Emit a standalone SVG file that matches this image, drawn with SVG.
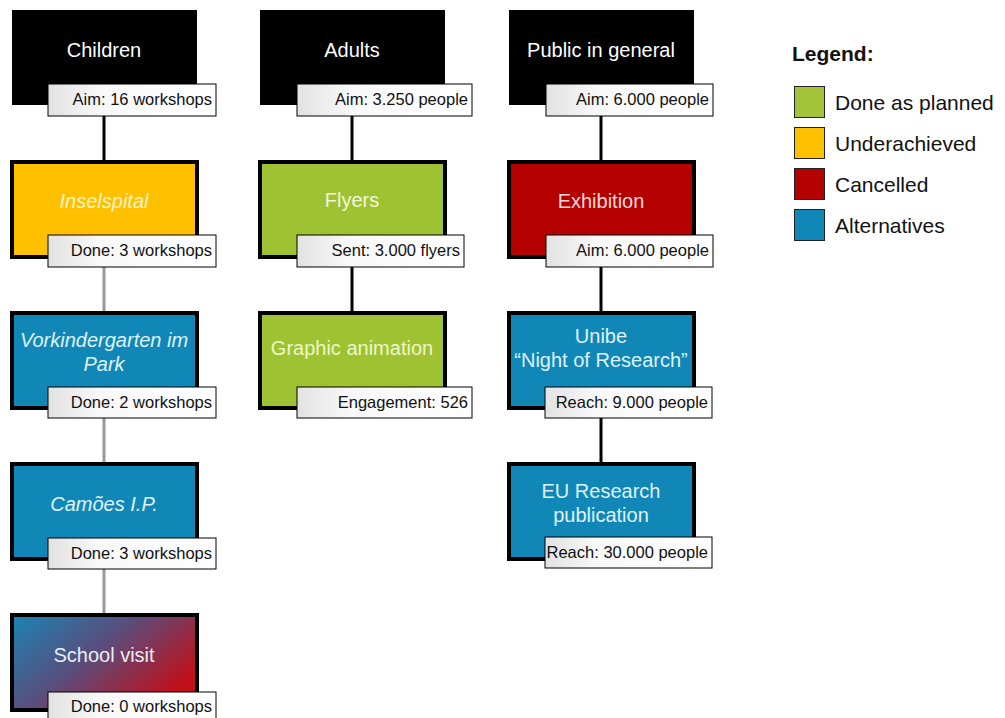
<svg xmlns="http://www.w3.org/2000/svg" width="1005" height="718" viewBox="0 0 1005 718">
<defs>
<linearGradient id="lbl" x1="0" y1="0" x2="1" y2="0">
<stop offset="0" stop-color="#e2e2e2"/>
<stop offset="0.3" stop-color="#f8f8f8"/>
<stop offset="1" stop-color="#ffffff"/>
</linearGradient>
<linearGradient id="mix" x1="0" y1="0" x2="1" y2="0.6">
<stop offset="0" stop-color="#1a84b4"/>
<stop offset="0.5" stop-color="#5a4d7c"/>
<stop offset="1" stop-color="#c0101a"/>
</linearGradient>
<style>
.head{fill:#000}
.box{stroke:#000;stroke-width:4}
.yel{fill:#ffc000}
.grn{fill:#9fc232}
.red{fill:#b50000}
.blu{fill:#1187b7}
.lab{fill:url(#lbl);stroke:#000;stroke-width:1}
.t{font-family:"Liberation Sans",Arial,sans-serif;font-size:20px;text-anchor:middle}
.it{font-style:italic}
.lt{font-family:"Liberation Sans",Arial,sans-serif;font-size:16.5px;text-anchor:end;fill:#111}
.lg{font-family:"Liberation Sans",Arial,sans-serif;font-size:21px;fill:#111}
.cb{stroke:#000;stroke-width:3;fill:none}
.cg{stroke:#999;stroke-width:3;fill:none}
.sw{stroke:#222;stroke-width:1}
</style>
</defs>
<rect width="1005" height="718" fill="#fff"/>
<g id="connectors">
<line class="cb" x1="104" y1="105" x2="104" y2="162"/>
<line class="cg" x1="104" y1="257" x2="104" y2="312"/>
<line class="cg" x1="104" y1="408" x2="104" y2="463"/>
<line class="cg" x1="104" y1="561" x2="104" y2="613"/>
<line class="cb" x1="352" y1="105" x2="352" y2="162"/>
<line class="cb" x1="352" y1="257" x2="352" y2="312"/>
<line class="cb" x1="601" y1="105" x2="601" y2="162"/>
<line class="cb" x1="601" y1="257" x2="601" y2="312"/>
<line class="cb" x1="601" y1="408" x2="601" y2="463"/>
</g>
<g id="children">
<rect class="head" x="12" y="10" width="185" height="95"/>
<text class="t" x="104" y="57" fill="#fff">Children</text>
<rect class="lab" x="48" y="84" width="168" height="32"/>
<text class="lt" x="212" y="105">Aim: 16 workshops</text>
</g>
<g id="inselspital">
<rect class="box yel" x="12" y="162" width="185" height="95"/>
<text class="t it" x="104" y="208" fill="#fff3c8">Inselspital</text>
<rect class="lab" x="48" y="235" width="168" height="32"/>
<text class="lt" x="212" y="256">Done: 3 workshops</text>
</g>
<g id="vorkindergarten">
<rect class="box blu" x="12" y="313" width="185" height="95"/>
<text class="t it" x="104" y="347" fill="#dff3fb">Vorkindergarten im</text>
<text class="t it" x="104" y="371" fill="#dff3fb">Park</text>
<rect class="lab" x="48" y="387" width="168" height="31"/>
<text class="lt" x="212" y="408">Done: 2 workshops</text>
</g>
<g id="camoes">
<rect class="box blu" x="12" y="464" width="185" height="95"/>
<text class="t it" x="104" y="511" fill="#dff3fb">Camões I.P.</text>
<rect class="lab" x="48" y="538" width="168" height="31"/>
<text class="lt" x="212" y="559">Done: 3 workshops</text>
</g>
<g id="school-visit">
<rect class="box" x="12" y="615" width="185" height="95" fill="url(#mix)"/>
<text class="t" x="104" y="662" fill="#e8eef5">School visit</text>
<rect class="lab" x="48" y="692" width="168" height="31"/>
<text class="lt" x="212" y="712">Done: 0 workshops</text>
</g>
<g id="adults">
<rect class="head" x="260" y="10" width="185" height="95"/>
<text class="t" x="352" y="57" fill="#fff">Adults</text>
<rect class="lab" x="297" y="84" width="175" height="32"/>
<text class="lt" x="468" y="105">Aim: 3.250 people</text>
</g>
<g id="flyers">
<rect class="box grn" x="260" y="162" width="185" height="95"/>
<text class="t" x="352" y="207" fill="#f1f8d8">Flyers</text>
<rect class="lab" x="297" y="235" width="167" height="32"/>
<text class="lt" x="460" y="256">Sent: 3.000 flyers</text>
</g>
<g id="graphic-animation">
<rect class="box grn" x="260" y="313" width="185" height="95"/>
<text class="t" x="352" y="355" fill="#eef7c8">Graphic animation</text>
<rect class="lab" x="297" y="387" width="175" height="31"/>
<text class="lt" x="468" y="408">Engagement: 526</text>
</g>
<g id="public">
<rect class="head" x="509" y="10" width="185" height="95"/>
<text class="t" x="601" y="57" fill="#fff">Public in general</text>
<rect class="lab" x="546" y="84" width="167" height="32"/>
<text class="lt" x="709" y="105">Aim: 6.000 people</text>
</g>
<g id="exhibition">
<rect class="box red" x="509" y="162" width="185" height="95"/>
<text class="t" x="601" y="208" fill="#ffd8d8">Exhibition</text>
<rect class="lab" x="546" y="235" width="167" height="32"/>
<text class="lt" x="709" y="256">Aim: 6.000 people</text>
</g>
<g id="unibe">
<rect class="box blu" x="509" y="313" width="185" height="95"/>
<text class="t" x="601" y="343" fill="#dff3fb">Unibe</text>
<text class="t" x="601" y="367" fill="#dff3fb">“Night of Research”</text>
<rect class="lab" x="545" y="387" width="167" height="31"/>
<text class="lt" x="708" y="408">Reach: 9.000 people</text>
</g>
<g id="eu-research">
<rect class="box blu" x="509" y="464" width="185" height="95"/>
<text class="t" x="601" y="498" fill="#dff3fb">EU Research</text>
<text class="t" x="601" y="522" fill="#dff3fb">publication</text>
<rect class="lab" x="545" y="537" width="167" height="31"/>
<text class="lt" x="708" y="558">Reach: 30.000 people</text>
</g>
<g id="legend">
<text class="lg" x="792" y="61" font-weight="bold">Legend:</text>
<rect class="sw" x="794.5" y="86.5" width="30" height="31" fill="#a3c33a"/>
<text class="lg" x="835" y="110">Done as planned</text>
<rect class="sw" x="794.5" y="127.5" width="30" height="31" fill="#ffc000"/>
<text class="lg" x="835" y="151">Underachieved</text>
<rect class="sw" x="794.5" y="168.5" width="30" height="31" fill="#b50000"/>
<text class="lg" x="835" y="192">Cancelled</text>
<rect class="sw" x="794.5" y="209.5" width="30" height="31" fill="#1187b7"/>
<text class="lg" x="835" y="233">Alternatives</text>
</g>
</svg>
